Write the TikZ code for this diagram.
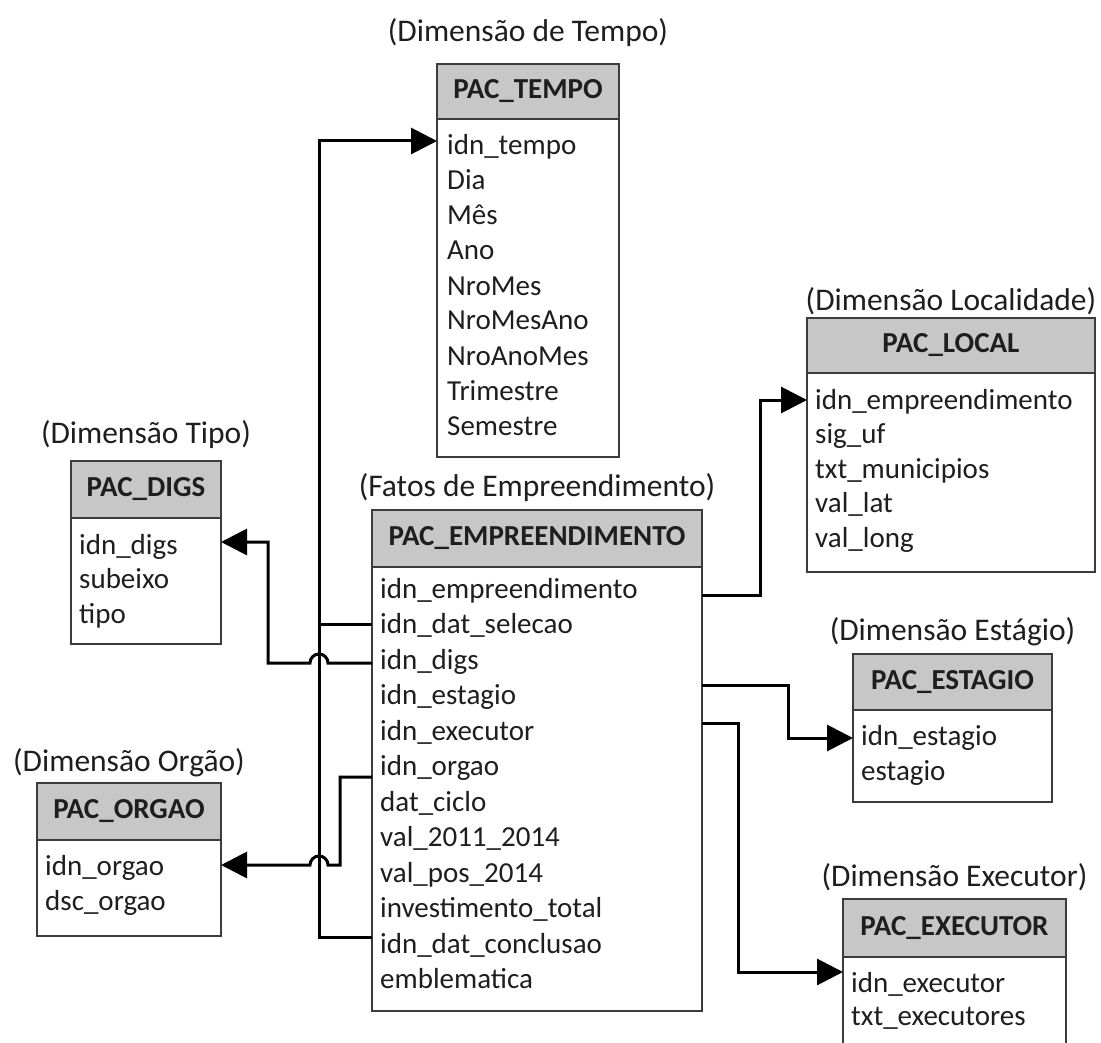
\documentclass[tikz,border=0pt]{standalone}
\usepackage{fontspec}
\setmainfont{Carlito}
\usetikzlibrary{arrows.meta,calc}

\definecolor{hdrgrey}{RGB}{199,199,199}
\definecolor{edgegrey}{RGB}{60,60,60}
\definecolor{inkgrey}{RGB}{30,30,30}

\tikzset{
  hdr/.style={draw=edgegrey, fill=hdrgrey, line width=1.5pt, inner sep=0pt, outer sep=0pt,
    font=\fontsize{29}{35}\selectfont\bfseries, text=inkgrey},
  tbody/.style={draw=edgegrey, fill=white, line width=1.5pt, inner sep=0pt, outer sep=0pt},
  field/.style={anchor=west, inner sep=0pt, text height=20pt, text depth=6pt,
    font=\fontsize{29}{35}\selectfont, text=inkgrey},
  caption/.style={inner sep=0pt, font=\fontsize{31.5}{38}\selectfont, text=inkgrey},
  link/.style={line width=3pt, draw=black, line join=miter},
  fk/.style={-{Triangle[length=26pt,width=26pt]}},
}

\begin{document}
\begin{tikzpicture}[x=1pt,y=-1pt]
\clip (0,0) rectangle (1101,1043);
\fill[white] (0,0) rectangle (1101,1043);

% ---------- PAC_TEMPO ----------
\node[caption] (tempo-cap) at (528,33) {(Dimensão de Tempo)};
\node[hdr, minimum width=182pt, minimum height=55pt] (tempo-h) at (528,91.5) {PAC\_TEMPO};
\node[tbody, minimum width=182pt, minimum height=338pt] (tempo) at (528,288) {};
\foreach \t [count=\i] in {idn\_tempo,Dia,Mês,Ano,NroMes,NroMesAno,NroAnoMes,Trimestre,Semestre}
  \node[field] (tempo-\i) at (447,{148+35*(\i-1)}) {\t};

% ---------- PAC_DIGS ----------
\node[caption] (digs-cap) at (146,435) {(Dimensão Tipo)};
\node[hdr, minimum width=150pt, minimum height=57pt] (digs-h) at (146,489.5) {PAC\_DIGS};
\node[tbody, minimum width=150pt, minimum height=126pt] (digs) at (146,581) {};
\foreach \t [count=\i] in {idn\_digs,subeixo,tipo}
  \node[field] (digs-\i) at (79,{547+34.5*(\i-1)}) {\t};

% ---------- PAC_ORGAO ----------
\node[caption] (orgao-cap) at (129,763) {(Dimensão Orgão)};
\node[hdr, minimum width=184pt, minimum height=57pt] (orgao-h) at (129,811.5) {PAC\_ORGAO};
\node[tbody, minimum width=184pt, minimum height=96pt] (orgao) at (129,888) {};
\foreach \t [count=\i] in {idn\_orgao,dsc\_orgao}
  \node[field] (orgao-\i) at (45,{868+35*(\i-1)}) {\t};

% ---------- PAC_EMPREENDIMENTO ----------
\node[caption] (emp-cap) at (537,488) {(Fatos de Empreendimento)};
\node[hdr, minimum width=330pt, minimum height=57pt] (emp-h) at (537,538.5) {PAC\_EMPREENDIMENTO};
\node[tbody, minimum width=330pt, minimum height=444pt] (emp) at (537,789) {};
\foreach \t [count=\i] in {idn\_empreendimento,idn\_dat\_selecao,idn\_digs,idn\_estagio,
    idn\_executor,idn\_orgao,dat\_ciclo,val\_2011\_2014,val\_pos\_2014,
    investimento\_total,idn\_dat\_conclusao,emblematica}
  \node[field] (emp-\i) at (380,{591+35.5*(\i-1)}) {\t};

% ---------- PAC_LOCAL ----------
\node[caption] (local-cap) at (951,301) {(Dimensão Localidade)};
\node[hdr, minimum width=288pt, minimum height=55pt] (local-h) at (951,345.5) {PAC\_LOCAL};
\node[tbody, minimum width=288pt, minimum height=199pt] (local) at (951,472.5) {};
\foreach \t [count=\i] in {idn\_empreendimento,sig\_uf,txt\_municipios,val\_lat,val\_long}
  \node[field] (local-\i) at (815,{402+34.5*(\i-1)}) {\t};

% ---------- PAC_ESTAGIO ----------
\node[caption] (est-cap) at (952.5,632) {(Dimensão Estágio)};
\node[hdr, minimum width=199pt, minimum height=56pt] (est-h) at (952.5,682) {PAC\_ESTAGIO};
\node[tbody, minimum width=199pt, minimum height=92pt] (est) at (952.5,756) {};
\foreach \t [count=\i] in {idn\_estagio,estagio}
  \node[field] (est-\i) at (861,{738+35*(\i-1)}) {\t};

% ---------- PAC_EXECUTOR ----------
\node[caption] (exec-cap) at (954.5,877) {(Dimensão Executor)};
\node[hdr, minimum width=223pt, minimum height=58pt] (exec-h) at (954.5,928) {PAC\_EXECUTOR};
\node[tbody, minimum width=223pt, minimum height=103pt] (exec) at (954.5,1008.5) {};
\foreach \t [count=\i] in {idn\_executor,txt\_executores}
  \node[field] (exec-\i) at (851,{985+33*(\i-1)}) {\t};

% ---------- connector end points on the table borders ----------
\coordinate (sel-out)  at ([yshift=2.5pt]emp-2.west -| emp.west);
\coordinate (conc-out) at ([yshift=9pt]emp-11.west -| emp.west);
\coordinate (digs-out) at ([yshift=-1pt]emp-3.west -| emp.west);
\coordinate (org-out)  at ([yshift=-8.5pt]emp-6.west -| emp.west);
\coordinate (loc-out)  at ([yshift=-4pt]emp-1.west -| emp.east);
\coordinate (est-out)  at ([yshift=12.5pt]emp-4.west -| emp.east);
\coordinate (exe-out)  at ([yshift=10pt]emp-5.west -| emp.east);

\coordinate (tempo-in) at ([yshift=7pt]tempo-1.west -| tempo.west);
\coordinate (digs-in)  at ([yshift=5pt]digs-1.west -| digs.east);
\coordinate (org-in)   at ([yshift=3pt]orgao-1.west -| orgao.east);
\coordinate (loc-in)   at ([yshift=2pt]local-1.west -| local.west);
\coordinate (est-in)   at (est-1.west -| est.west);
\coordinate (exe-in)   at ([yshift=13pt]exec-1.west -| exec.west);

% ---------- time dimension bus ----------
\draw[link,fk] (sel-out) -- ++(-53,0) |- (tempo-in);
\draw[link] (conc-out) -- ++(-53,0) |- (sel-out);

% ---------- type dimension (hops over the bus) ----------
\draw[link,fk] (digs-out) -- ++(-44,0) arc[start angle=0,end angle=-180,radius=9]
  -- ++(-42,0) |- (digs-in);

% ---------- organ dimension (hops over the bus) ----------
\draw[link,fk] (org-out) -- ++(-32,0) coordinate (org-bend) -- (org-bend |- org-in)
  -- ++(-12,0) arc[start angle=0,end angle=-180,radius=9] -- (org-in);

% ---------- right-hand dimensions ----------
\draw[link,fk] (loc-out) -- ++(58,0) |- (loc-in);
\draw[link,fk] (est-out) -- ++(86,0) |- (est-in);
\draw[link,fk] (exe-out) -- ++(36,0) |- (exe-in);
\end{tikzpicture}
\end{document}
